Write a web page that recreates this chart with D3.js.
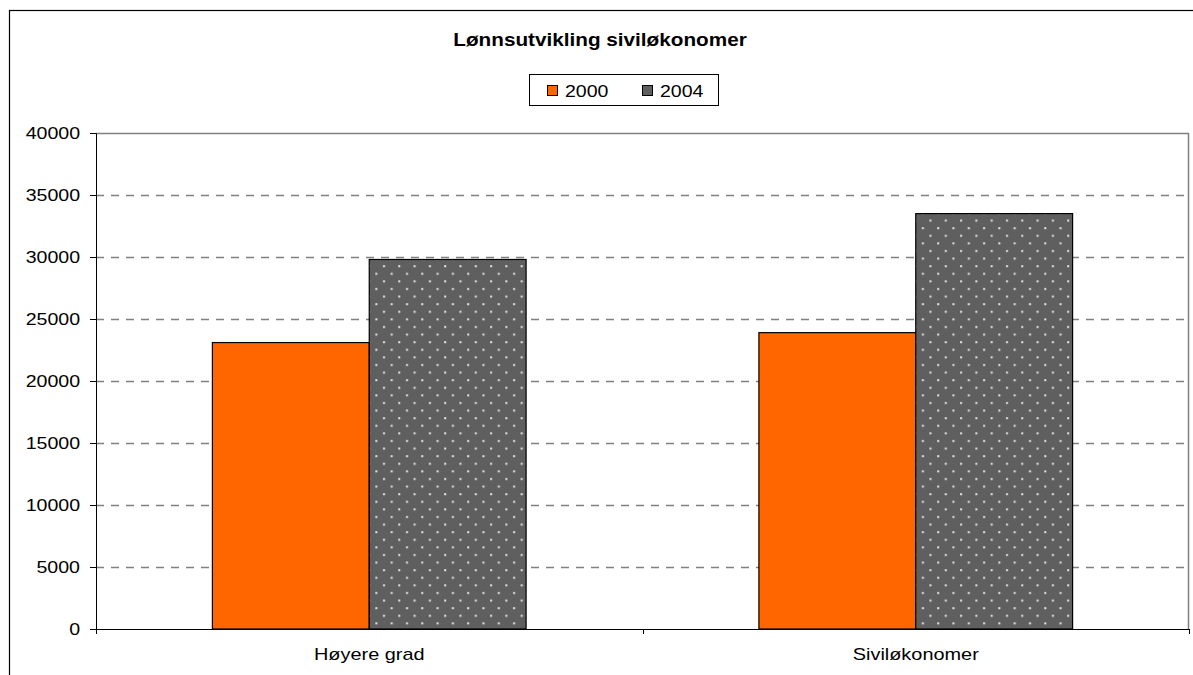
<!DOCTYPE html>
<html>
<head>
<meta charset="utf-8">
<script src="https://cdn.jsdelivr.net/npm/d3@7"></script>
<style>
  body { margin: 0; background: #fff; }
  svg { display: block; font-family: "Liberation Sans", Arial, sans-serif; }
</style>
</head>
<body>
<div id="chart"></div>
<script>
var categories = ["Høyere grad", "Siviløkonomer"];
var seriesNames = ["2000", "2004"];
var values2000 = [23100, 23900];
var values2004 = [29800, 33500];
var yTicks = [0, 5000, 10000, 15000, 20000, 25000, 30000, 35000, 40000];
var title = "Lønnsutvikling siviløkonomer";

var W = 1193, H = 675;
var margin = { top: 133, right: 4, bottom: 46, left: 96 };
var width = W - margin.left - margin.right;
var height = H - margin.top - margin.bottom;

// the original text is a bit wider than Arial at the same height
function stretch(sel, k) {
  sel.each(function () {
    var len = this.getComputedTextLength();
    d3.select(this).attr("textLength", len * k).attr("lengthAdjust", "spacingAndGlyphs");
  });
}

var svg = d3.select("#chart").append("svg")
  .attr("width", W).attr("height", H);

// dotted fill for the 2004 bars
var defs = svg.append("defs");
var pat = defs.append("pattern")
  .attr("id", "dots")
  .attr("patternUnits", "userSpaceOnUse")
  .attr("width", 15.3).attr("height", 15.2);
pat.append("rect").attr("width", 15.3).attr("height", 15.2).attr("fill", "#5f5f5f");
pat.append("rect").attr("x", 4).attr("y", 3).attr("width", 2).attr("height", 2).attr("fill", "#e6e6e6");
pat.append("rect").attr("x", 11.6).attr("y", 10.6).attr("width", 2).attr("height", 2).attr("fill", "#e6e6e6");

// outer chart frame
svg.append("rect")
  .attr("x", 9.5).attr("y", 10.5)
  .attr("width", W + 10).attr("height", H + 10)
  .attr("fill", "none").attr("stroke", "#000").attr("stroke-width", 1.2);

// title
svg.append("text")
  .attr("x", 600).attr("y", 46)
  .attr("text-anchor", "middle")
  .style("font-size", "19px").style("font-weight", "bold")
  .text(title)
  .call(stretch, 1.09);

// legend
var legend = svg.append("g").attr("transform", "translate(529,74)");
legend.append("rect")
  .attr("x", 0.5).attr("y", 0.5).attr("width", 189).attr("height", 31)
  .attr("fill", "#fff").attr("stroke", "#000");
var legendFill = ["#ff6600", "url(#dots)"];
seriesNames.forEach(function (name, i) {
  var lx = 18 + i * 95;
  legend.append("rect")
    .attr("x", lx + 0.5).attr("y", 11.5).attr("width", 10).attr("height", 10)
    .attr("fill", i === 0 ? "#ff6600" : "#5f5f5f").attr("stroke", "#000");
  legend.append("text")
    .attr("x", lx + 18).attr("y", 23)
    .style("font-size", "16px")
    .text(name)
    .call(stretch, 1.22);
});

var g = svg.append("g")
  .attr("transform", "translate(" + margin.left + "," + margin.top + ")");

var y = d3.scaleLinear().domain([0, 40000]).range([height, 0]);
var x0 = d3.scaleBand().domain(categories).range([0, width]).paddingInner(0).paddingOuter(0);
var x1 = d3.scaleBand().domain(seriesNames).range([x0.bandwidth() * 0.213, x0.bandwidth() * 0.787]);

// gridlines
g.selectAll(".grid")
  .data(yTicks.filter(function (d) { return d > 0; }))
  .enter().append("line")
  .attr("x1", 0).attr("x2", width)
  .attr("y1", function (d) { return Math.round(y(d)) + 0.5; })
  .attr("y2", function (d) { return Math.round(y(d)) + 0.5; })
  .attr("stroke", "#808080")
  .attr("stroke-width", 1.5)
  .attr("stroke-dasharray", function (d) { return d === 40000 ? null : "8,7"; });

// right border of plot area
g.append("line")
  .attr("x1", width - 0.5).attr("x2", width - 0.5)
  .attr("y1", 0).attr("y2", height)
  .attr("stroke", "#808080").attr("stroke-width", 1.5);

// bars
var data = categories.map(function (c, i) {
  return { cat: c, vals: [values2000[i], values2004[i]] };
});
var groups = g.selectAll(".grp").data(data).enter().append("g")
  .attr("transform", function (d) { return "translate(" + x0(d.cat) + ",0)"; });
groups.selectAll("rect")
  .data(function (d) { return d.vals.map(function (v, i) { return { s: seriesNames[i], v: v }; }); })
  .enter().append("rect")
  .attr("x", function (d) { return x1(d.s); })
  .attr("y", function (d) { return y(d.v); })
  .attr("width", x1.bandwidth())
  .attr("height", function (d) { return height - y(d.v); })
  .attr("fill", function (d, i) { return legendFill[i]; })
  .attr("stroke", "#000").attr("stroke-width", 1.2);

// y axis
var yAxis = g.append("g")
  .call(d3.axisLeft(y).tickValues(yTicks).tickSize(6).tickPadding(10).tickFormat(d3.format("d")));
yAxis.selectAll("text").style("font-size", "17px").attr("fill", "#000").call(stretch, 1.15);
yAxis.select(".domain").attr("stroke", "#000");

// x axis
var xAxis = g.append("g")
  .attr("transform", "translate(0," + height + ")")
  .call(d3.axisBottom(x0).tickSize(0).tickPadding(19));
xAxis.selectAll("text").style("font-size", "17px").attr("fill", "#000").call(stretch, 1.17);
xAxis.select(".domain").attr("stroke", "#000").attr("stroke-width", 1.2);
xAxis.selectAll(".edge")
  .data([0, x0.bandwidth(), width])
  .enter().append("line")
  .attr("x1", function (d) { return Math.round(d) + 0.5; })
  .attr("x2", function (d) { return Math.round(d) + 0.5; })
  .attr("y1", 0).attr("y2", 5)
  .attr("stroke", "#000");
</script>
</body>
</html>
